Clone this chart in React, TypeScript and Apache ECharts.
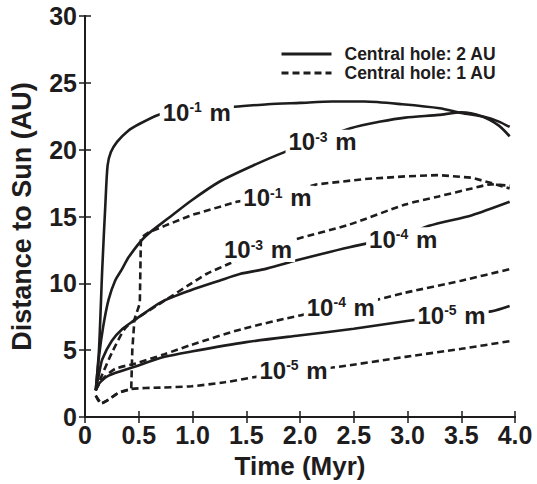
import React, { useEffect, useRef } from "react";
import * as echarts from "echarts";

const INK = "#1e1c1d";
const FONT = '"Liberation Sans", Arial, Helvetica, sans-serif';

// Axis ticks
const xMin = 0;
const xMax = 4;
const xStep = 0.5;
const yMin = 0;
const yMax = 30;
const yStep = 5;

// Legend entries
const legendNames = ["Central hole: 2 AU", "Central hole: 1 AU"];

// Central hole 2 AU (solid)
const solidE1: number[][] = [
  [0.1, 2.0], [0.13, 5.0], [0.16, 11.0], [0.19, 16.0], [0.21, 18.8], [0.24, 19.8],
  [0.3, 20.6], [0.4, 21.4], [0.5, 21.9], [0.68, 22.6], [0.85, 22.9], [1.05, 23.1],
  [1.36, 23.2], [1.7, 23.4], [2.0, 23.5], [2.3, 23.6], [2.6, 23.6], [2.95, 23.4],
  [3.3, 23.1], [3.5, 22.75], [3.72, 22.45], [3.85, 22.1], [3.95, 21.7],
];
const solidE3: number[][] = [
  [0.1, 2.0], [0.13, 4.5], [0.17, 6.8], [0.22, 8.8], [0.28, 10.2], [0.34, 11.0],
  [0.41, 12.0], [0.56, 13.5], [0.78, 14.9], [0.99, 16.2], [1.25, 17.6], [1.56, 18.8],
  [1.85, 19.8], [2.2, 20.8], [2.47, 21.6], [2.75, 22.1], [2.98, 22.4], [3.29, 22.6],
  [3.5, 22.8], [3.69, 22.5], [3.85, 21.8], [3.95, 21.0],
];
const solidE4: number[][] = [
  [0.1, 2.0], [0.13, 3.2], [0.16, 4.3], [0.25, 5.7], [0.35, 6.6], [0.47, 7.3],
  [0.71, 8.6], [0.99, 9.5], [1.25, 10.2], [1.44, 10.7], [1.69, 11.1], [1.96, 11.7],
  [2.2, 12.2], [2.46, 12.7], [2.7, 13.1], [2.96, 13.5], [3.2, 14.3], [3.6, 15.1],
  [3.95, 16.1],
];
const solidE5: number[][] = [
  [0.1, 2.0], [0.13, 2.5], [0.22, 3.1], [0.44, 3.7], [0.74, 4.5], [0.99, 4.9],
  [1.5, 5.6], [1.99, 6.1], [2.5, 6.6], [3.01, 7.2], [3.41, 7.6], [3.78, 7.9],
  [3.95, 8.3],
];

// Central hole 1 AU (dashed)
const dashedE1: number[][] = [
  [0.1, 1.6], [0.15, 1.0], [0.2, 1.2], [0.31, 1.8], [0.43, 2.1], [0.44, 5.0],
  [0.46, 7.3], [0.51, 8.5], [0.52, 13.4], [0.59, 13.8], [0.74, 14.3], [0.99, 15.1],
  [1.41, 16.1], [1.79, 16.6], [2.15, 17.4], [2.6, 17.8], [2.98, 18.0], [3.29, 18.1],
  [3.6, 17.9], [3.78, 17.5], [3.95, 17.1],
];
const dashedE3: number[][] = [
  [0.1, 2.0], [0.14, 2.8], [0.25, 4.8], [0.37, 6.6], [0.47, 7.3], [0.74, 8.7],
  [0.99, 10.0], [1.13, 10.7], [1.35, 11.5], [1.61, 12.5], [1.96, 13.3], [2.46, 14.4],
  [2.98, 15.9], [3.29, 16.5], [3.6, 17.1], [3.78, 17.4], [3.95, 17.3],
];
const dashedE4: number[][] = [
  [0.1, 2.0], [0.16, 2.8], [0.28, 3.6], [0.47, 4.0], [0.74, 4.7], [0.99, 5.4],
  [1.47, 6.6], [2.0, 7.6], [2.38, 8.2], [2.73, 8.8], [2.98, 9.3], [3.5, 10.2],
  [3.97, 11.1],
];
const dashedE5: number[][] = [
  [0.1, 1.6], [0.15, 1.0], [0.2, 1.2], [0.31, 1.8], [0.43, 2.1], [0.7, 2.2],
  [0.99, 2.3], [1.3, 2.6], [1.59, 3.0], [1.94, 3.5], [2.3, 3.7], [2.98, 4.5],
  [3.5, 5.1], [3.97, 5.7],
];

// In-line curve labels (grain size)
const labelX = [1.04, 2.21, 1.79, 1.61, 2.96, 2.38, 3.41, 1.94];
const labelY = [22.8, 20.6, 16.4, 12.5, 13.3, 8.2, 7.6, 3.5];
const labelExp = ["-1", "-3", "-1", "-3", "-4", "-4", "-5", "-5"];

function lineSeries(name: string, data: number[][], dashed: boolean, smooth: number | boolean) {
  return {
    type: "line",
    name,
    data,
    symbol: "none",
    showSymbol: false,
    smooth,
    silent: true,
    z: 2,
    lineStyle: {
      color: INK,
      width: 2.6,
      type: dashed ? [7, 4] : "solid",
    },
    itemStyle: { color: INK },
  };
}

export default function App() {
  const ref = useRef<HTMLDivElement>(null);

  useEffect(() => {
    if (!ref.current) return;
    const chart = echarts.init(ref.current, undefined, { renderer: "svg" });

    const axisCommon = {
      type: "value",
      axisLine: { show: true, lineStyle: { color: INK, width: 2 } },
      axisTick: { show: true, inside: true, length: 6, lineStyle: { color: INK, width: 1.5 } },
      splitLine: { show: false },
    };
    const tickText = {
      color: INK,
      fontSize: 25,
      fontWeight: "bold",
      fontFamily: FONT,
    };
    const labelText = {
      color: INK,
      fontWeight: "bold",
      fontFamily: FONT,
      textBorderWidth: 0,
      textBorderColor: "transparent",
      textShadowBlur: 0,
      opacity: 1,
    };

    chart.setOption({
      animation: false,
      backgroundColor: "#ffffff",
      grid: { left: 83, top: 16, right: 22, bottom: 66, containLabel: false },
      legend: {
        data: legendNames,
        orient: "vertical",
        left: 275,
        top: 40,
        itemWidth: 50,
        itemHeight: 20,
        itemGap: 1,
        selectedMode: false,
        itemStyle: { opacity: 0, borderWidth: 0 },
        lineStyle: { width: 3 },
        textStyle: {
          color: INK,
          fontSize: 17.5,
          fontWeight: "bold",
          fontFamily: FONT,
          padding: [0, 0, 0, 8],
        },
      },
      xAxis: [
        {
          ...axisCommon,
          min: xMin,
          max: xMax,
          interval: xStep,
          position: "bottom",
          axisLabel: {
            ...tickText,
            margin: 5,
            formatter: (v: number) => (v === 0 ? "0" : v.toFixed(1)),
          },
          name: "Time (Myr)",
          nameLocation: "middle",
          nameGap: 36,
          nameTextStyle: { color: INK, fontSize: 26, fontWeight: "bold", fontFamily: FONT },
        },
        {
          ...axisCommon,
          min: xMin,
          max: xMax,
          interval: xStep,
          position: "top",
          axisLabel: { show: false },
        },
      ],
      yAxis: [
        {
          ...axisCommon,
          min: yMin,
          max: yMax,
          interval: yStep,
          position: "left",
          axisLabel: { ...tickText, margin: 8 },
          name: "Distance to Sun (AU)",
          nameLocation: "middle",
          nameGap: 50,
          nameTextStyle: { color: INK, fontSize: 27, fontWeight: "bold", fontFamily: FONT },
        },
        {
          ...axisCommon,
          min: yMin,
          max: yMax,
          interval: yStep,
          position: "right",
          axisLabel: { show: false },
        },
      ],
      series: [
        lineSeries(legendNames[0], solidE1, false, 0.25),
        lineSeries(legendNames[0], solidE3, false, 0.25),
        lineSeries(legendNames[0], solidE4, false, 0.25),
        lineSeries(legendNames[0], solidE5, false, 0.25),
        lineSeries(legendNames[1], dashedE1, true, false),
        lineSeries(legendNames[1], dashedE3, true, 0.25),
        lineSeries(legendNames[1], dashedE4, true, 0.25),
        lineSeries(legendNames[1], dashedE5, true, 0.25),
        {
          type: "scatter",
          name: "labels",
          data: labelX.map((x, i) => [x, labelY[i], labelExp[i]]),
          symbol: "circle",
          symbolSize: 1,
          itemStyle: { color: "rgba(0,0,0,0)", opacity: 1 },
          silent: true,
          z: 10,
          label: {
            show: true,
            position: "inside",
            ...labelText,
            backgroundColor: "#ffffff",
            padding: [0, 3, 0, 3],
            formatter: (p: any) => `{b|10}{s|${p.data[2]}}{b| m}`,
            rich: {
              b: {
                ...labelText,
                fontSize: 24,
                lineHeight: 24,
                verticalAlign: "bottom",
              },
              s: {
                ...labelText,
                fontSize: 14,
                lineHeight: 24,
                verticalAlign: "top",
                padding: [0, 1, 10, 0],
              },
            },
          },
        },
      ],
    });

    return () => chart.dispose();
  }, []);

  return (
    <div
      ref={ref}
      style={{ position: "fixed", left: 0, top: 0, width: 537, height: 484, background: "#fff" }}
    />
  );
}
